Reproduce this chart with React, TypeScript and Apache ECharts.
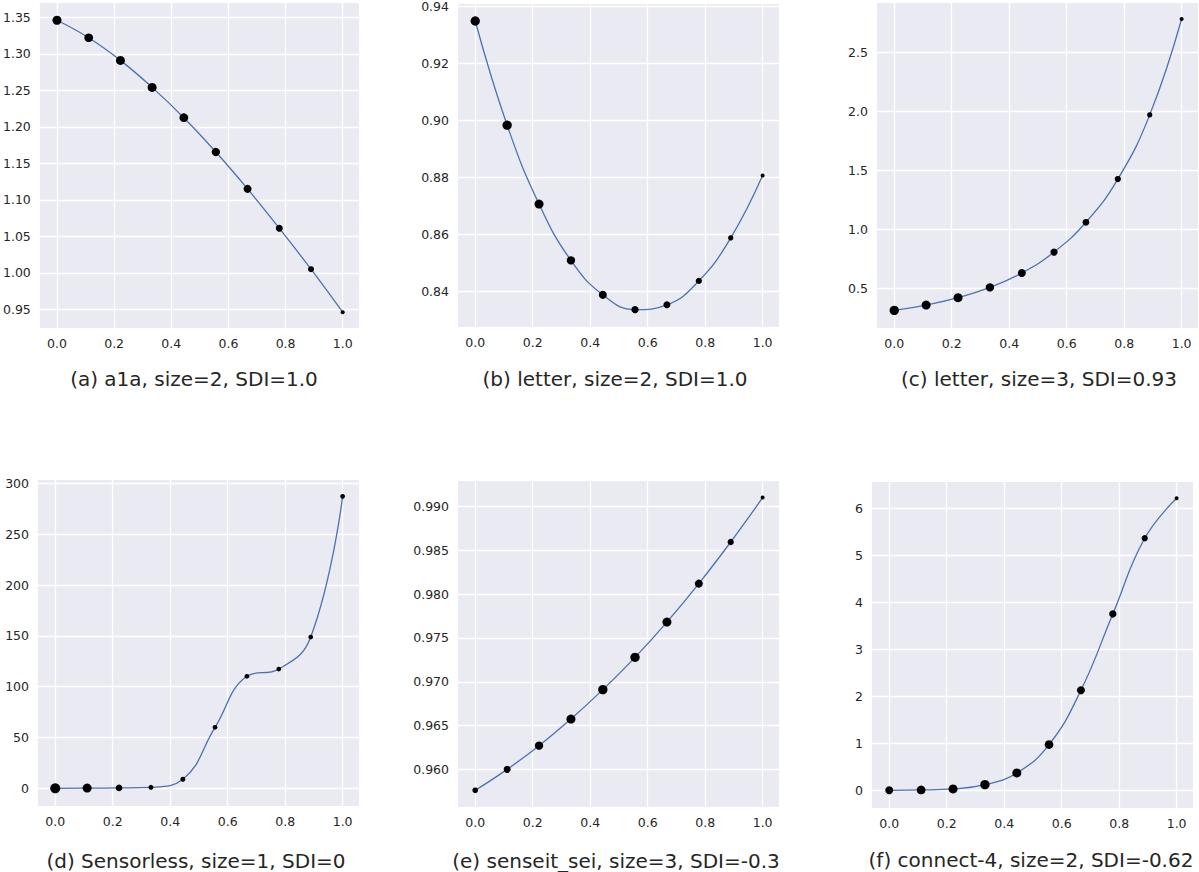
import React, { useEffect, useRef } from "react";
import * as echarts from "echarts";

// Shared sample positions along the horizontal axis
const xPositions = [0, 0.111, 0.222, 0.333, 0.444, 0.556, 0.667, 0.778, 0.889, 1.0];

// Measured values per dataset
const valuesA1a = [1.346, 1.322, 1.291, 1.254, 1.2125, 1.1655, 1.115, 1.061, 1.005, 0.946];
const valuesLetter2 = [0.9349, 0.8983, 0.8706, 0.8508, 0.8387, 0.8335, 0.8352, 0.8436, 0.8587, 0.8806];
const valuesLetter3 = [0.317, 0.362, 0.424, 0.511, 0.633, 0.81, 1.062, 1.427, 1.97, 2.781];
const valuesSensorless = [0.0, 0.2, 0.4, 1.0, 8.9, 60.0, 110.2, 117.3, 148.8, 287.2];
const valuesSenseit = [0.95764, 0.96003, 0.96273, 0.96576, 0.96911, 0.97279, 0.97681, 0.98119, 0.98593, 0.99099];
const valuesConnect4 = [0.0, 0.007, 0.028, 0.12, 0.369, 0.972, 2.128, 3.752, 5.362, 6.213];

// Per-point weights, drawn as dot diameters
const weightsA1a = [9, 8.7, 9, 9, 8.7, 8.3, 8, 7, 6, 4];
const weightsLetter2 = [9.3, 9.3, 9, 8.3, 8, 7.3, 7, 6.3, 5.3, 4];
const weightsLetter3 = [9.3, 9, 9, 8.3, 8, 7.3, 6.7, 6.3, 5.3, 4];
const weightsSensorless = [10, 9, 6.7, 5, 5, 4.7, 4.7, 4.7, 4.7, 4.7];
const weightsSenseit = [5.7, 7, 8.3, 9, 9.3, 9.3, 9, 8, 6.3, 4];
const weightsConnect4 = [8, 8.7, 9, 9.3, 9, 8.7, 8, 7.3, 6.3, 4];

const captions = [
  "(a) a1a, size=2, SDI=1.0",
  "(b) letter, size=2, SDI=1.0",
  "(c) letter, size=3, SDI=0.93",
  "(d) Sensorless, size=1, SDI=0",
  "(e) senseit_sei, size=3, SDI=-0.3",
  "(f) connect-4, size=2, SDI=-0.62",
];

const panelValues = [valuesA1a, valuesLetter2, valuesLetter3, valuesSensorless, valuesSenseit, valuesConnect4];
const panelWeights = [weightsA1a, weightsLetter2, weightsLetter3, weightsSensorless, weightsSenseit, weightsConnect4];

// Layout and axis settings for each subplot
const panels = [
  { left: 38, top: 3, width: 321, height: 325, yMin: 0.9244, yMax: 1.3696, step: 0.05, digits: 2, capX: 194, capY: 379 },
  { left: 458, top: 2, width: 321, height: 325, yMin: 0.8274, yMax: 0.9409, step: 0.02, digits: 2, capX: 615, capY: 379 },
  { left: 877, top: 3, width: 321, height: 325, yMin: 0.168, yMax: 2.916, step: 0.5, digits: 1, capX: 1039, capY: 379 },
  { left: 38, top: 480, width: 321, height: 326, yMin: -17.4, yMax: 303.3, step: 50, digits: 0, capX: 196, capY: 861 },
  { left: 458, top: 481, width: 321, height: 326, yMin: 0.95574, yMax: 0.99288, step: 0.005, digits: 3, capX: 616, capY: 861 },
  { left: 872, top: 482, width: 321, height: 326, yMin: -0.377, yMax: 6.56, step: 1, digits: 0, capX: 1031, capY: 860 },
];

const FONT = "DejaVu Sans";
const TEXT_COLOR = "#262626";

export default function App() {
  const ref = useRef<HTMLDivElement>(null);

  useEffect(() => {
    if (!ref.current) return;
    const chart = echarts.init(ref.current, null, { renderer: "svg" });

    const grid = panels.map((p) => ({
      left: p.left,
      top: p.top,
      width: p.width,
      height: p.height,
      show: true,
      backgroundColor: "#eaeaf2",
      borderWidth: 0,
      containLabel: false,
    }));

    const xAxis = panels.map((_, i) => ({
      type: "value",
      gridIndex: i,
      min: -0.06,
      max: 1.057,
      minInterval: 0.2,
      maxInterval: 0.2,
      axisLine: { show: false },
      axisTick: { show: false },
      axisLabel: {
        show: true,
        margin: 9,
        fontSize: 12.5,
        fontFamily: FONT,
        color: TEXT_COLOR,
        showMinLabel: false,
        showMaxLabel: false,
        formatter: (v: number) => v.toFixed(1),
      },
      splitLine: {
        show: true,
        showMinLine: false,
        showMaxLine: false,
        lineStyle: { color: "#ffffff", width: 1.3 },
      },
    }));

    const yAxis = panels.map((p, i) => ({
      type: "value",
      gridIndex: i,
      min: p.yMin,
      max: p.yMax,
      minInterval: p.step,
      maxInterval: p.step,
      axisLine: { show: false },
      axisTick: { show: false },
      axisLabel: {
        show: true,
        margin: 9,
        fontSize: 12.5,
        fontFamily: FONT,
        color: TEXT_COLOR,
        showMinLabel: false,
        showMaxLabel: false,
        formatter: (v: number) => v.toFixed(p.digits),
      },
      splitLine: {
        show: true,
        showMinLine: false,
        showMaxLine: false,
        lineStyle: { color: "#ffffff", width: 1.3 },
      },
    }));

    const series: any[] = [];
    panelValues.forEach((vals, i) => {
      const pts = vals.map((v, k) => [xPositions[k], v]);
      series.push({
        type: "line",
        xAxisIndex: i,
        yAxisIndex: i,
        data: pts,
        smooth: 0.45,
        showSymbol: false,
        symbol: "none",
        lineStyle: { color: "#4c72b0", width: 1.3 },
        z: 2,
      });
      series.push({
        type: "scatter",
        xAxisIndex: i,
        yAxisIndex: i,
        data: pts,
        symbol: "circle",
        symbolSize: (_v: any, params: any) => panelWeights[i][params.dataIndex],
        itemStyle: { color: "#000000", opacity: 1 },
        z: 3,
      });
    });

    const graphic = panels.map((p, i) => ({
      type: "text",
      x: p.capX,
      y: p.capY,
      style: {
        text: captions[i],
        fontSize: 20,
        fontFamily: FONT,
        fill: TEXT_COLOR,
        align: "center",
        verticalAlign: "middle",
      },
    }));

    chart.setOption({
      animation: false,
      backgroundColor: "#ffffff",
      grid,
      xAxis,
      yAxis,
      series,
      graphic,
    });

    return () => chart.dispose();
  }, []);

  return (
    <div
      ref={ref}
      style={{ position: "fixed", left: 0, top: 0, width: 1199, height: 872 }}
    />
  );
}
